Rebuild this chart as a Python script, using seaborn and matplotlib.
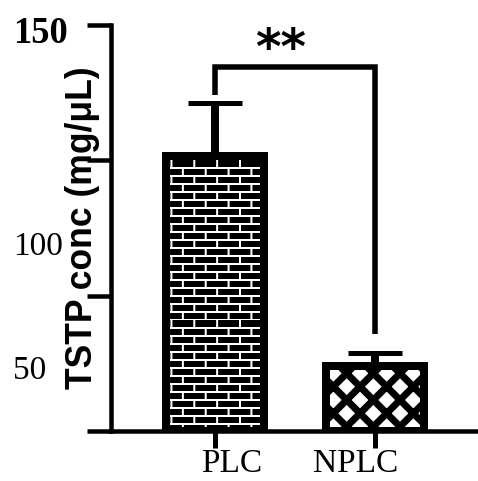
import warnings
import matplotlib
matplotlib.use("Agg")
import matplotlib.pyplot as plt
import seaborn as sns
from matplotlib import hatch as mhatch
from matplotlib.path import Path
from matplotlib.transforms import ScaledTranslation

warnings.filterwarnings("ignore")

# donnees
groups = ["PLC", "NPLC"]
means = [101.7, 24.1]
err_up = [19.4, 4.7]
bracket_vals = [124.1, 134.3, 134.3, 35.8]
sig_label = "**"
y_ticks = [0, 50, 100, 150]
y_tick_labels = ["", "50", "100", "150"]
y_label = "TSTP conc (mg/\u03bcL)"

DPI = 160
PT = 72 / DPI  # pixels -> points


# motif "brique" pour la barre PLC
class BrickHatch(mhatch.HatchPatternBase):
    def __init__(self, hatch, density):
        self.rows = 20 if "b" in hatch else 0
        self.cols = 7
        self.num_vertices = self.rows * 2 + self.rows * self.cols * 2

    def set_vertices_and_codes(self, vertices, codes):
        k = 0
        for i in range(self.rows):
            y0 = i / self.rows
            y1 = (i + 1) / self.rows
            vertices[k] = (0.0, y0)
            vertices[k + 1] = (1.0, y0)
            k += 2
            for j in range(self.cols):
                x = (j + 0.5 * (i % 2)) / self.cols
                vertices[k] = (x, y0)
                vertices[k + 1] = (x, y1)
                k += 2
        codes[0::2] = Path.MOVETO
        codes[1::2] = Path.LINETO


mhatch._hatch_types.append(BrickHatch)

sns.set_style("ticks")
plt.rcParams.update({"text.color": "black", "axes.labelcolor": "black",
                     "xtick.color": "black", "ytick.color": "black"})
serif = "Liberation Serif"

fig = plt.figure(figsize=(478 / DPI, 481 / DPI), dpi=DPI)
ax = fig.add_axes([111 / 478, 1 - 431 / 481, 1 - 111 / 478, (431 - 25) / 481])

sns.barplot(x=groups, y=means, width=0.615, color="black", saturation=1,
            edgecolor="black", linewidth=8 * PT, ax=ax)

bars = ax.patches
bars[0].set_facecolor("black")
bars[0].set_hatch("b")
bars[0]._hatch_color = (1, 1, 1, 1)
bars[1].set_facecolor("white")
bars[1].set_hatch("xx")
bars[1]._hatch_color = (0, 0, 0, 1)
for p, hlw in zip(bars, [2 * PT, 7 * PT]):
    if hasattr(p, "set_hatch_linewidth"):
        p.set_hatch_linewidth(hlw)

ax.errorbar(x=[0, 1], y=means, yerr=[[0, 0], err_up], fmt="none",
            ecolor="black", elinewidth=8 * PT, capsize=27 * PT,
            capthick=5 * PT)

# crochet de significativite
ax.plot([0, 0, 1, 1], bracket_vals, color="black", lw=5.5 * PT,
        solid_joinstyle="miter", solid_capstyle="butt", clip_on=False)
ax.text(0.41, 140.8, sig_label, ha="center", va="center", fontsize=22,
        fontweight="bold", family="DejaVu Sans")

ax.set_xlim(-0.65, 1.644)
ax.set_ylim(0, 150)
ax.set_xlabel("")
ax.set_ylabel(y_label, fontsize=16, fontweight="bold",
              family="Liberation Sans", color="black")
ax.yaxis.set_label_coords(-0.03, 0.5)

sns.despine(ax=ax)
for s in ["left", "bottom"]:
    ax.spines[s].set_linewidth(4.5 * PT)
    ax.spines[s].set_color("black")

ax.set_yticks(y_ticks, y_tick_labels)
ax.tick_params(axis="y", length=24 * PT, width=4.5 * PT, pad=(111 - 24 - 13) * PT,
               direction="out", colors="black")
ax.tick_params(axis="x", length=17 * PT, width=5 * PT, pad=0,
               direction="out", colors="black")

# etiquettes de l'axe y decalees comme sur l'original
y_shift = {"50": 72, "100": 83, "150": 5}
for lab in ax.get_yticklabels():
    txt = lab.get_text()
    lab.set_ha("left")
    lab.set_family(serif)
    lab.set_fontsize(15)
    if txt == "150":
        lab.set_fontweight("bold")
        lab.set_fontsize(16.5)
    if txt in y_shift:
        lab.set_transform(lab.get_transform() +
                          ScaledTranslation(0, -y_shift[txt] / DPI, fig.dpi_scale_trans))

x_shift = [17, -19]
for lab, dx in zip(ax.get_xticklabels(), x_shift):
    lab.set_family(serif)
    lab.set_fontsize(15)
    lab.set_transform(lab.get_transform() +
                      ScaledTranslation(dx / DPI, 0, fig.dpi_scale_trans))

fig.savefig("out.png", dpi=DPI)
